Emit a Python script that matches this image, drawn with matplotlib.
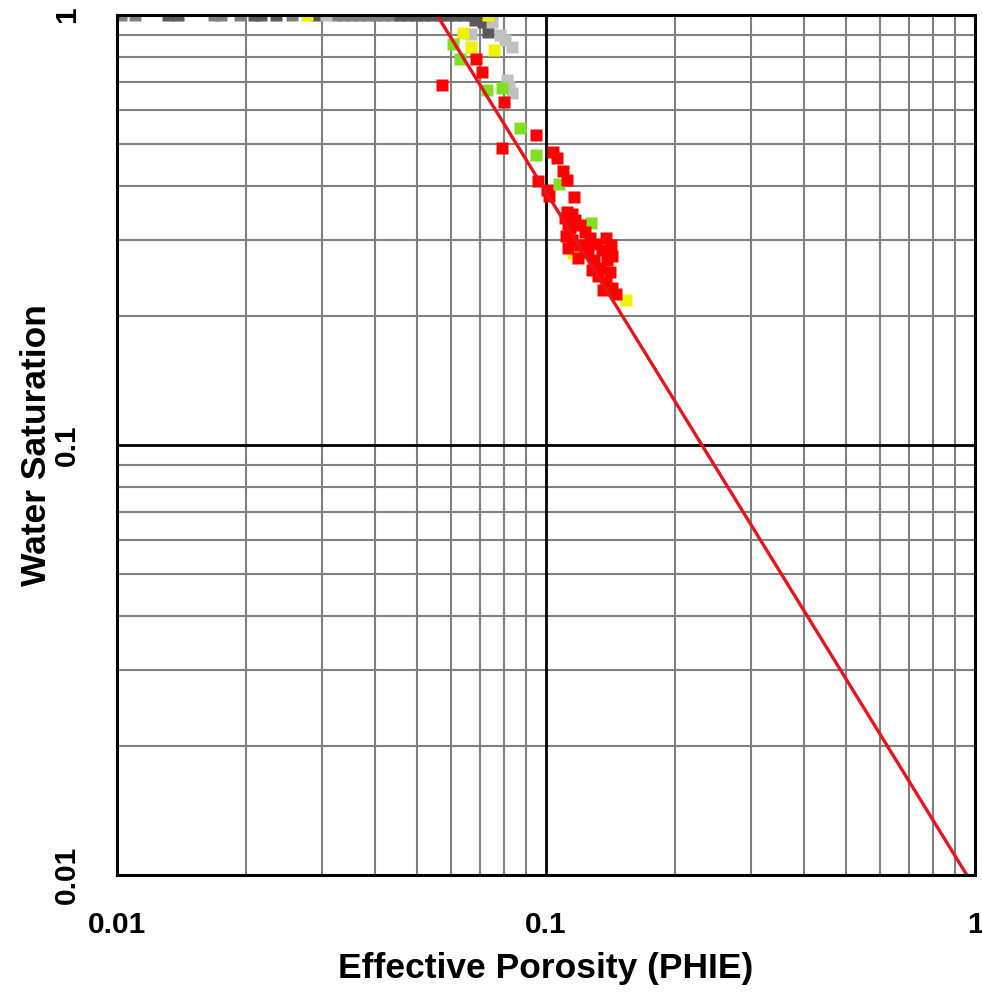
import numpy as np
import matplotlib.pyplot as plt
from matplotlib.ticker import FixedLocator, NullFormatter

plt.rcParams['font.family'] = ['Liberation Sans', 'DejaVu Sans']

# data (PHIE, Sw)
top_mid_phi = [0.0102, 0.0110, 0.01683, 0.01747, 0.01935, 0.02558,
               0.03238, 0.0338, 0.0353, 0.0368, 0.0385, 0.0402, 0.0419, 0.0438]
top_mid_sw = [1.0] * len(top_mid_phi)

dark_phi = [0.01315, 0.01387, 0.02086, 0.02166, 0.02347, 0.0291,
            0.0457, 0.0477, 0.0498, 0.0520, 0.0542, 0.0566, 0.0591, 0.0617,
            0.0644, 0.0672, 0.0702, 0.0683, 0.0713, 0.0733]
dark_sw = [1.0] * 17 + [0.974, 0.963, 0.913]

light_phi = [0.0307, 0.0669, 0.0748, 0.0781, 0.0802, 0.0833, 0.0811, 0.0833, 0.0820]
light_sw = [1.0, 0.903, 0.963, 0.899, 0.875, 0.842, 0.706, 0.659, 0.680]

yellow_phi = [0.02773, 0.0733, 0.0641, 0.0669, 0.0756, 0.1156, 0.1537]
yellow_sw = [1.0, 1.0, 0.908, 0.842, 0.829, 0.2796, 0.217]

green_phi = [0.0607, 0.0630, 0.0729, 0.0789, 0.0870, 0.0947, 0.1072, 0.1273]
green_sw = [0.856, 0.790, 0.669, 0.676, 0.546, 0.472, 0.404, 0.328]

red_phi = [0.0687, 0.0709, 0.0572, 0.0798, 0.0947, 0.0789, 0.1038, 0.1061,
           0.1096, 0.1119, 0.0958, 0.1005, 0.1016, 0.1162, 0.1150,
           0.1119, 0.1168, 0.1137, 0.1200, 0.1233, 0.1150, 0.1267, 0.1200,
           0.1308, 0.1253, 0.1350, 0.1187, 0.1294, 0.1387, 0.1336, 0.1410,
           0.1321, 0.1380, 0.1425, 0.1456, 0.1233, 0.1108,
           0.1418, 0.1425, 0.1380, 0.1126, 0.1114, 0.1126, 0.1358, 0.1280]
red_sw = [0.790, 0.737, 0.687, 0.628, 0.526, 0.491, 0.480, 0.465,
          0.434, 0.413, 0.411, 0.392, 0.379, 0.377, 0.344,
          0.348, 0.334, 0.3195, 0.325, 0.313, 0.2997, 0.303, 0.2918,
          0.2934, 0.281, 0.284, 0.272, 0.269, 0.269, 0.258, 0.2524,
          0.247, 0.238, 0.232, 0.2245, 0.287, 0.3373,
          0.2918, 0.2752, 0.303, 0.287, 0.306, 0.3266, 0.2293, 0.2553]

# bulk volume water line
line_phi = [0.0557, 0.957]
line_sw = [1.0, 0.01]

fig = plt.figure(figsize=(9.82, 9.92), dpi=100)
ax = fig.add_axes([0.1191, 0.1179, 0.8738, 0.867])
ax.set_xscale('log')
ax.set_yscale('log')
ax.set_xlim(0.01, 1)
ax.set_ylim(0.01, 1)

minors = [m * 10.0**e for e in (-2, -1) for m in range(2, 10)]
for v in minors:
    ax.axvline(v, color='#808080', lw=1.5, zorder=1)
    ax.axhline(v, color='#808080', lw=1.5, zorder=1)
ax.axvline(0.1, color='black', lw=2, zorder=1.5)
ax.axhline(0.1, color='black', lw=2, zorder=1.5)

ms = 9
for phi, sw, c in [(top_mid_phi, top_mid_sw, '#808080'),
                   (dark_phi, dark_sw, '#595959'),
                   (light_phi, light_sw, '#c0c0c0'),
                   (yellow_phi, yellow_sw, '#f2f200'),
                   (green_phi, green_sw, '#80e020'),
                   (red_phi, red_sw, '#ff0000')]:
    ax.plot(phi, sw, ls='none', marker='s', ms=ms, mec='none', mfc=c, zorder=3)

ax.plot(line_phi, line_sw, color='#e8141c', lw=2.4, zorder=4)

ax.xaxis.set_major_locator(FixedLocator([0.01, 0.1, 1]))
ax.yaxis.set_major_locator(FixedLocator([0.01, 0.1, 1]))
ax.xaxis.set_minor_formatter(NullFormatter())
ax.yaxis.set_minor_formatter(NullFormatter())
ax.set_xticklabels(['0.01', '0.1', '1'], fontsize=21.5, fontweight='bold')
ax.set_yticklabels(['0.01', '0.1', '1'], fontsize=21.5, fontweight='bold',
                   rotation=90, va='center')
ax.tick_params(which='both', length=0, pad=26)

for s in ax.spines.values():
    s.set_linewidth(2.2)
    s.set_zorder(5)

ax.set_xlabel('Effective Porosity (PHIE)', fontsize=25.5, fontweight='bold', labelpad=9)
ax.set_ylabel('Water Saturation', fontsize=25.5, fontweight='bold', labelpad=0)

fig.savefig('out.png', dpi=100)
